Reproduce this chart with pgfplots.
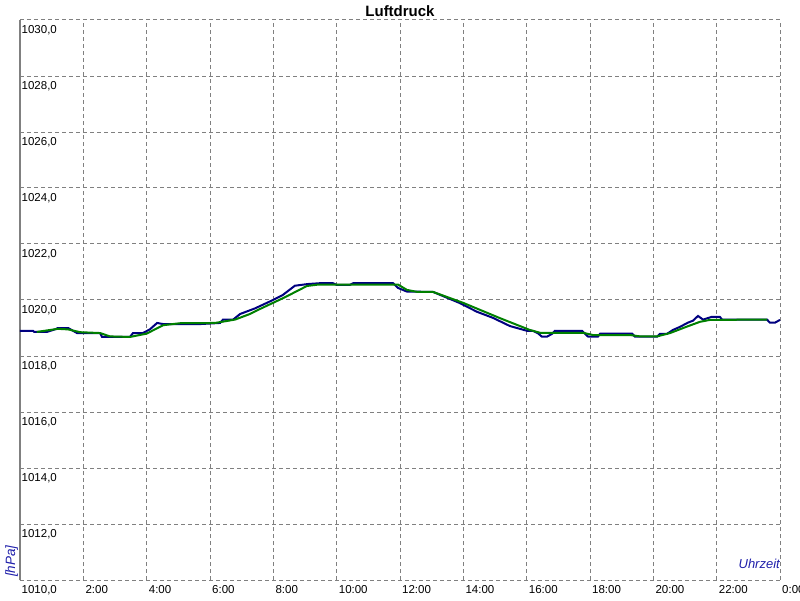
\documentclass[border=0pt]{standalone}
\usepackage{fontspec}
\setmainfont{Liberation Sans}
\usepackage{pgfplots}
\pgfplotsset{compat=1.18}
\definecolor{lnblue}{RGB}{0,0,128}
\definecolor{lngreen}{RGB}{0,128,0}
\definecolor{lblblue}{RGB}{30,30,170}
\definecolor{gridgray}{RGB}{128,128,128}
\begin{document}
\fontsize{11}{13}\selectfont
\begin{tikzpicture}[x=1pt,y=1pt]
\useasboundingbox (0,0) rectangle (800,600);
\begin{axis}[
  at={(20pt,20pt)}, anchor=south west,
  scale only axis, width=760pt, height=560pt,
  xmin=0, xmax=24, ymin=1010, ymax=1030,
  xtick={0,2,...,24},
  xticklabels={,2:00,4:00,6:00,8:00,10:00,12:00,14:00,16:00,18:00,20:00,22:00,0:00},
  ytick={1010,1012,...,1030},
  yticklabels={1010{,}0,1012{,}0,1014{,}0,1016{,}0,1018{,}0,1020{,}0,1022{,}0,1024{,}0,1026{,}0,1028{,}0,1030{,}0},
  /pgf/number format/assume math mode=true,
  major tick length=0pt,
  tick label style={font=\fontsize{11.5}{13}\selectfont, text=black},
  xticklabel style={anchor=north west, inner sep=1pt, xshift=1pt, yshift=-4pt},
  yticklabel style={anchor=north west, inner sep=1pt, xshift=0.5pt, yshift=-4pt},
  yticklabel shift=0pt, xticklabel shift=0pt,
  grid=major,
  major grid style={gridgray, line width=1pt, dash pattern=on 4pt off 3pt},
  axis line style={draw=none},
  clip=false,
]
\draw[gridgray, line width=2pt] (rel axis cs:0,0) -- (rel axis cs:0,1);
\addplot[lnblue, line width=2pt] coordinates {
(0,1018.9) (0.41,1018.9) (0.45,1018.86) (0.85,1018.86) (1.1,1018.95) (1.2,1019.0) (1.52,1019.0)
(1.8,1018.82) (2.53,1018.82) (2.59,1018.68) (3.47,1018.68) (3.57,1018.82) (3.88,1018.82)
(4.1,1018.95) (4.33,1019.18) (4.52,1019.14) (5.68,1019.14) (6.32,1019.18) (6.41,1019.3)
(6.73,1019.3) (6.95,1019.5) (7.42,1019.7) (7.8,1019.9) (7.99,1020.0) (8.3,1020.18)
(8.68,1020.51) (9.09,1020.57) (9.47,1020.6) (9.88,1020.6) (10.0,1020.54) (10.42,1020.54)
(10.52,1020.6) (11.78,1020.6) (11.94,1020.43) (12.22,1020.3) (13.04,1020.29) (13.89,1019.89)
(14.43,1019.58) (14.94,1019.36) (15.47,1019.07) (16.01,1018.9) (16.2,1018.9) (16.36,1018.81)
(16.48,1018.69) (16.64,1018.69) (16.8,1018.79) (16.89,1018.9) (17.75,1018.9) (17.84,1018.8)
(17.94,1018.69) (18.25,1018.69) (18.32,1018.8) (19.33,1018.8) (19.42,1018.69) (20.12,1018.69)
(20.21,1018.79) (20.43,1018.79) (20.62,1018.93) (20.84,1019.04) (21.09,1019.19) (21.25,1019.26)
(21.41,1019.43) (21.57,1019.3) (21.85,1019.4) (22.1,1019.4) (22.17,1019.3) (23.59,1019.3)
(23.68,1019.19) (23.84,1019.19) (24,1019.29)
};
\addplot[lngreen, line width=2pt] coordinates {
(0.53,1018.86) (1.2,1018.97) (1.52,1018.95) (1.9,1018.85) (2.53,1018.82) (2.84,1018.7)
(3.47,1018.68) (4.0,1018.8) (4.52,1019.1) (5.05,1019.17) (6.16,1019.18) (6.79,1019.3)
(7.26,1019.5) (7.58,1019.68) (8.37,1020.1) (9.06,1020.5) (9.41,1020.55) (11.94,1020.55)
(12.22,1020.36) (12.54,1020.29) (13.04,1020.29) (13.99,1019.9) (15.16,1019.35) (16.1,1018.93)
(16.42,1018.83) (17.78,1018.83) (18.09,1018.75) (19.26,1018.75) (19.58,1018.7) (20.12,1018.7)
(20.53,1018.82) (21.06,1019.05) (21.47,1019.22) (21.79,1019.29) (23.59,1019.3)
};
\end{axis}
\node[anchor=base, inner sep=0pt, font=\bfseries\fontsize{15}{17}\selectfont] at (400,583) {Luftdruck};
\node[anchor=base east, inner sep=0pt, text=lblblue, font=\itshape\fontsize{13}{15}\selectfont] at (780,32) {Uhrzeit};
\node[rotate=90, anchor=base west, inner sep=0pt, text=lblblue, font=\itshape\fontsize{13.5}{15}\selectfont] at (15,23) {[hPa]};
\end{tikzpicture}
\end{document}
